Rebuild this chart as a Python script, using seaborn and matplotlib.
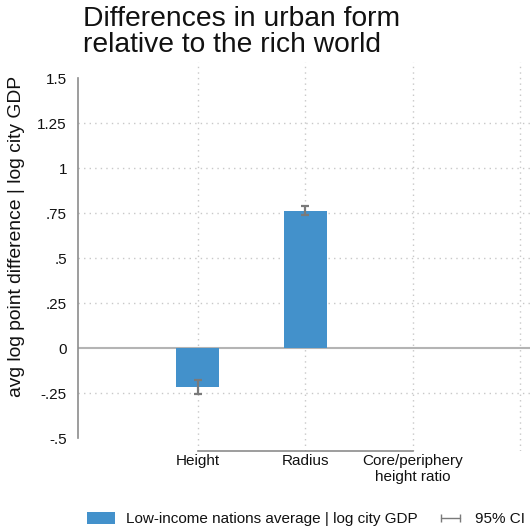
import numpy as np
import pandas as pd
import matplotlib
matplotlib.use("Agg")
import matplotlib.pyplot as plt
import seaborn as sns
from matplotlib.patches import Patch
from matplotlib.lines import Line2D

sns.set_style("white")
plt.rcParams['font.family'] = ['Liberation Sans', 'DejaVu Sans']
plt.rcParams['text.color'] = '#111111'
plt.rcParams['xtick.color'] = '#111111'
plt.rcParams['ytick.color'] = '#111111'

# data
categories = ["Height", "Radius", "Core/periphery\nheight ratio"]
means = [-0.215, 0.763, 0.0]
ci_low = [-0.255, 0.739, np.nan]
ci_high = [-0.180, 0.790, np.nan]
yticks = [-0.5, -0.25, 0, 0.25, 0.5, 0.75, 1, 1.25, 1.5]
yticklabels = ["-.5", "-.25", "0", ".25", ".5", ".75", "1", "1.25", "1.5"]
ygrid = [-0.25, 0.25, 0.5, 0.75, 1, 1.25]

bar_color = "#4391CB"
W, H = 530, 527

df = pd.DataFrame({"cat": categories, "val": means})

fig = plt.figure(figsize=(W / 100, H / 100), dpi=100)
fig.patch.set_facecolor("white")
ax = fig.add_axes([78 / W, (H - 451) / H, (W - 78) / W, (451 - 62) / H])
ax.set_facecolor("white")

# grid and zero line
for g in ygrid:
    ax.axhline(g, color="#c8c8c8", lw=1, ls=(0, (1, 3)), zorder=0)
for v in range(4):
    ax.axvline(v, color="#c8c8c8", lw=1, ls=(0, (1, 3)), zorder=0)
ax.axhline(0, color="#b4b4b4", lw=1.5, zorder=1)

sns.barplot(data=df, x="cat", y="val", order=categories, color=bar_color,
            width=0.4, saturation=1, linewidth=0, ax=ax, zorder=2)

pos = np.arange(len(categories))
m = np.array(means)
err = [m - np.array(ci_low), np.array(ci_high) - m]
ax.errorbar(pos, m, yerr=err, fmt="none", ecolor="#7a7a7a", elinewidth=1.6,
            capsize=3, capthick=1.6, zorder=3)

ax.set_xlim(-1.116, 3.09)
ax.set_ylim(-0.572, 1.589)
ax.set_yticks(yticks)
ax.set_yticklabels(yticklabels, fontsize=11)
ax.set_xticks(pos)
ax.set_xticklabels(categories, fontsize=11, linespacing=1.2)
ax.tick_params(axis="y", length=4.5, width=1, color="#8c8c8c", pad=3.5)
ax.tick_params(axis="x", length=0, pad=2)
ax.set_xlabel("")
ax.set_ylabel("")

for s in ["top", "right"]:
    ax.spines[s].set_visible(False)
ax.spines["left"].set_bounds(-0.5, 1.5)
ax.spines["left"].set_color("#8c8c8c")
ax.spines["left"].set_linewidth(1.2)
ax.spines["bottom"].set_bounds(0, 2)
ax.spines["bottom"].set_color("#8c8c8c")
ax.spines["bottom"].set_linewidth(1.2)

fig.text(17 / W, 1 - 236 / H, "avg log point difference | log city GDP",
         rotation=90, ha="center", va="center", fontsize=13.9)

fig.text(83 / W, 1 - 6 / H, "Differences in urban form\nrelative to the rich world",
         ha="left", va="top", fontsize=20.3, linespacing=1.0)

handles = [Patch(facecolor=bar_color, edgecolor="none"),
           Line2D([], [], color="#7a7a7a", lw=1, marker="|", markersize=6)]
fig.legend(handles, ["Low-income nations average | log city GDP", "95% CI"],
           loc="center left", bbox_to_anchor=(87 / W, 1 - 519 / H), ncol=2,
           frameon=False, fontsize=11, handlelength=1.85, handleheight=0.8,
           handletextpad=0.72, columnspacing=1.2, borderpad=0,
           borderaxespad=0, numpoints=2)

fig.savefig("out.png", dpi=100)
